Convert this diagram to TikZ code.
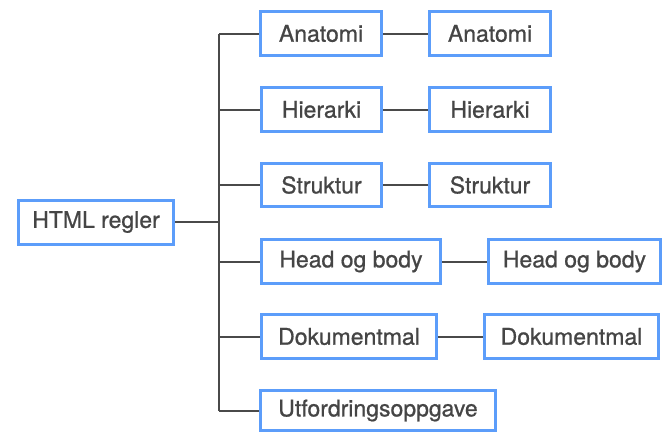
\documentclass[tikz,border=0pt]{standalone}
\usepackage{fontspec}
\setmainfont{TeX Gyre Heros}
\newfontfamily\boxfont[FakeBold=0.8]{TeX Gyre Heros}
\definecolor{boxblue}{HTML}{5C9DFA}
\definecolor{linegray}{HTML}{4A4A4A}
\definecolor{textgray}{HTML}{454545}
\begin{document}
\begin{tikzpicture}[x=1pt,y=-1pt,
  box/.style={draw=boxblue, line width=3pt, fill=white, rectangle, inner sep=0pt,
    text=textgray, font=\boxfont\fontsize{23}{26}\selectfont, minimum height=44pt},
  conn/.style={draw=linegray, line width=2pt}]
\useasboundingbox (0,0) rectangle (664,434);
% nodes
\node[box, minimum width=155pt] (root) at (96,222) {HTML regler};
\node[box, minimum width=121pt] (a1) at (321,33.5) {Anatomi};
\node[box, minimum width=121pt] (a2) at (490,33.5) {Anatomi};
\node[box, minimum width=120pt] (h1) at (321.5,109.5) {Hierarki};
\node[box, minimum width=121pt] (h2) at (490,109.5) {Hierarki};
\node[box, minimum width=120pt, minimum height=43pt] (s1) at (321.5,185) {Struktur};
\node[box, minimum width=121pt, minimum height=43pt] (s2) at (490,185) {Struktur};
\node[box, minimum width=179pt] (b1) at (351,261.5) {Head og body};
\node[box, minimum width=172pt] (b2) at (574.5,261.5) {Head og body};
\node[box, minimum width=175pt] (d1) at (349,336.5) {Dokumentmal};
\node[box, minimum width=174pt] (d2) at (571.5,336.5) {Dokumentmal};
\node[box, minimum width=235pt, minimum height=40pt] (u1) at (378,410.5) {Utfordringsoppgave};
% connectors
\coordinate (tk) at (219,222);
\draw[conn] (tk |- a1.west) -- (tk |- u1.west);
\draw[conn] (root.east) -- (tk);
\foreach \n in {a1,h1,s1,b1,d1,u1} \draw[conn] (tk |- \n.west) -- (\n.west);
\draw[conn] (a1.east) -- (a2.west);
\draw[conn] (h1.east) -- (h2.west);
\draw[conn] (s1.east) -- (s2.west);
\draw[conn] (b1.east) -- (b2.west);
\draw[conn] (d1.east) -- (d2.west);
\end{tikzpicture}
\end{document}
